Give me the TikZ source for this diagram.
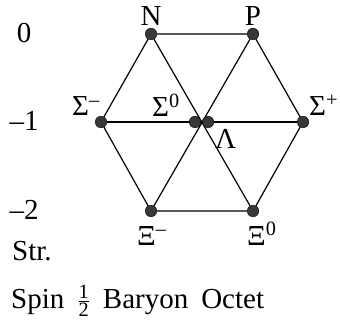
\documentclass[tikz,border=0pt]{standalone}
\usepackage{fontspec}
\setmainfont{Liberation Serif}
\usepackage{amsmath}
\usetikzlibrary{backgrounds}

\begin{document}
\begin{tikzpicture}[x=1pt,y=-1pt,
  baryon/.style={circle, draw=black, fill=black!78, inner sep=0pt, minimum size=11.5pt},
  lbl/.style={font=\fontsize{29}{32}\selectfont, inner sep=0pt}]
\useasboundingbox (0,0) rectangle (340,323);
% octet states
\foreach \n/\x/\y in {N/151/34, P/253/34, Sm/101/122, Sz/195/122, L/208/122, Sp/303/122, Xm/151/211, Xz/253/211}
  \node[baryon] (\n) at (\x,\y) {};
\begin{scope}[on background layer]
\draw[line width=1.2pt] (N) -- (P) -- (Sp) -- (Xz) -- (Xm) -- (Sm) -- (N);
\draw[line width=1.2pt] (Sm) -- (Sp);
\draw[line width=1.2pt] (N) -- (Xz);
\draw[line width=1.2pt] (P) -- (Xm);
\end{scope}
% particle names
\node[lbl, anchor=base] (tN) at (151,26) {N};
\node[lbl, anchor=base] (tP) at (253,26) {P};
\node[lbl, anchor=base west] (tSm) at (72,116) {Σ\textsuperscript{–}};
\node[lbl, anchor=base west] (tSz) at (152,117) {Σ\textsuperscript{0}};
\node[lbl, anchor=base west] (tSp) at (309,116) {Σ\textsuperscript{+}};
\node[lbl, anchor=base west] (tL) at (215,149) {Λ};
\node[lbl, anchor=base west] (tXm) at (137,245) {Ξ\textsuperscript{–}};
\node[lbl, anchor=base west] (tXz) at (247,245) {Ξ\textsuperscript{0}};
% strangeness axis
\foreach \s/\y/\nm in {0/43/s0, –1/131/s1, –2/220/s2}
  \node[lbl, anchor=base] (\nm) at (24,\y) {\s};
\node[lbl, anchor=base west] (str) at (12,260) {Str.};
\node[lbl, anchor=base west] (title) at (11,308) {\spaceskip=13pt Spin $\frac{\text{1}}{\text{2}}$ Baryon Octet};
\end{tikzpicture}
\end{document}
